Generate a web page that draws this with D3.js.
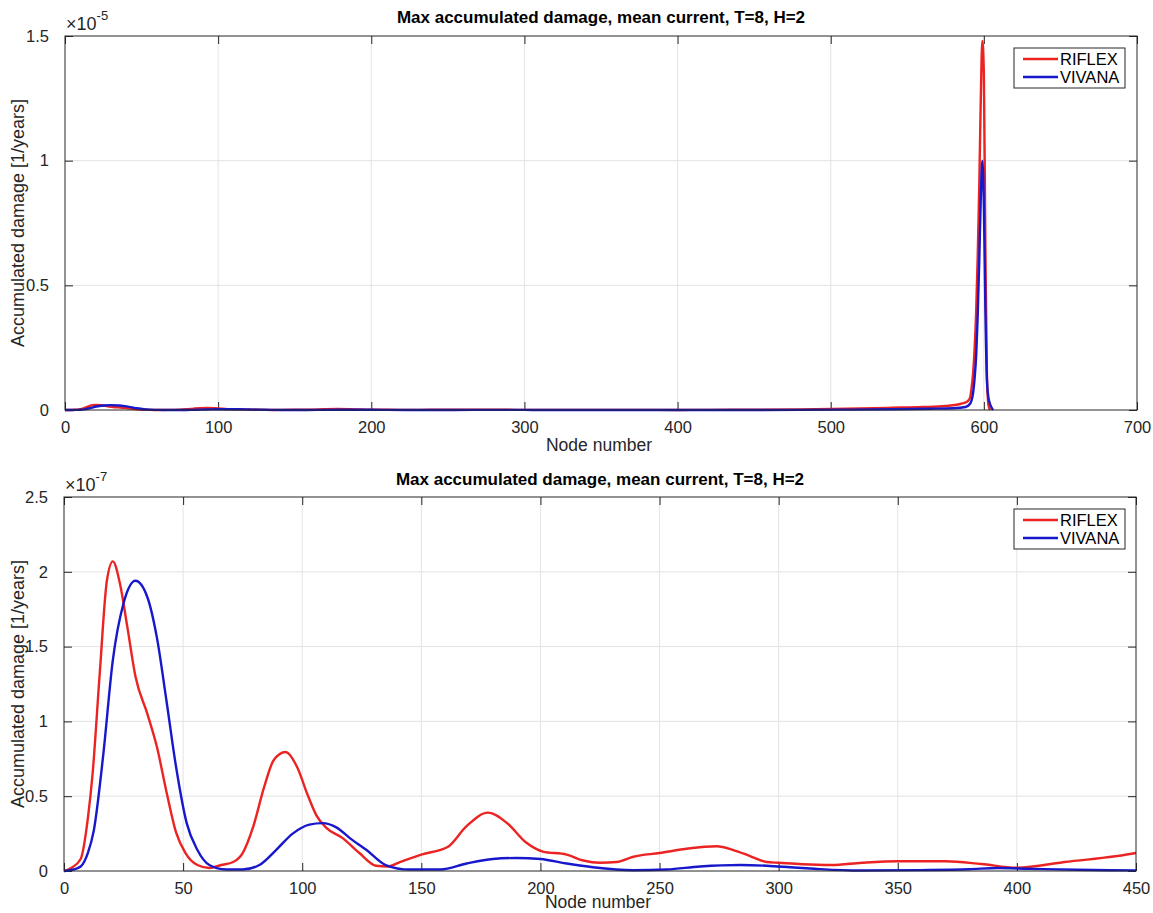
<!DOCTYPE html>
<html>
<head>
<meta charset="utf-8">
<script src="https://cdn.jsdelivr.net/npm/d3@7"></script>
<style>
  body { margin: 0; background: #fff; }
  svg { display: block; font-family: "Liberation Sans", Arial, sans-serif; }
  .grid line { stroke: #e3e3e3; stroke-width: 1; }
  .tick text { fill: #262626; font-size: 16.5px; }
  .tick line { stroke: #262626; }
  .domain { display: none; }
  .box { fill: none; stroke: #262626; stroke-width: 1; }
  .title { font-weight: bold; font-size: 17px; fill: #000; }
  .label { font-size: 17.5px; fill: #262626; }
</style>
</head>
<body>
<div id="chart"></div>
<script>
// Chart size
const width = 1153;
const height = 913;

// Damage values are stored in units of 1e-7 [1/years]
const unit = 1e-7;

const riflexNodes = [0, 3, 7, 10, 12, 15, 18, 20.5, 23.5, 26.5, 30, 35, 39, 43, 47, 51, 56, 61, 66, 71,
  75, 79.5, 84, 88, 93, 98, 102, 106, 110, 117, 124, 131, 136, 141, 150, 161, 169, 178, 186, 194,
  201, 211, 218, 225, 232, 239, 250, 262, 274, 281, 288, 295, 300, 310, 322, 335, 350, 370, 385, 400,
  420, 450, 480, 510, 540, 560, 575, 585, 589, 591, 592, 593, 594, 595, 596, 597, 598, 599, 600, 601,
  602, 603, 604];
const riflexDamage = [0, 0.02, 0.08, 0.35, 0.65, 1.32, 1.94, 2.07, 1.92, 1.64, 1.3, 1.05, 0.83, 0.53, 0.26, 0.12, 0.04, 0.02, 0.04, 0.06,
  0.12, 0.3, 0.56, 0.74, 0.795, 0.69, 0.52, 0.37, 0.29, 0.22, 0.12, 0.035, 0.03, 0.06, 0.11, 0.16, 0.3, 0.39, 0.32, 0.19,
  0.13, 0.11, 0.07, 0.055, 0.06, 0.095, 0.12, 0.15, 0.165, 0.14, 0.1, 0.06, 0.055, 0.045, 0.04, 0.055, 0.065, 0.065, 0.047, 0.022,
  0.06, 0.12, 0.25, 0.5, 0.9, 1.2, 1.6, 2.5, 3.3, 5, 9, 15, 25, 40, 62, 90, 125, 148, 135, 65,
  14, 2, 0];

const vivanaNodes = [0, 4, 7, 10, 12.5, 16.5, 20.5, 25, 30, 35, 39, 43, 47, 51.5, 56, 61, 68, 75, 82, 89,
  96, 103, 108.5, 114.5, 120, 127, 135, 145, 158, 169, 180, 190, 200, 211, 222, 239, 253, 267, 284, 295,
  305, 315, 334, 360, 380, 392, 405, 425, 450, 480, 510, 540, 565, 580, 588, 591, 593, 594, 595, 596,
  597, 598, 599, 600, 601, 602, 603, 604, 605, 606];
const vivanaDamage = [0, 0.01, 0.03, 0.12, 0.27, 0.78, 1.41, 1.79, 1.94, 1.83, 1.56, 1.14, 0.7, 0.32, 0.14, 0.04, 0.01, 0.01, 0.04, 0.14,
  0.25, 0.31, 0.32, 0.29, 0.22, 0.14, 0.04, 0.01, 0.01, 0.05, 0.08, 0.087, 0.08, 0.05, 0.025, 0.005, 0.01, 0.03, 0.04, 0.035,
  0.025, 0.015, 0.003, 0.006, 0.012, 0.02, 0.015, 0.008, 0.004, 0.05, 0.15, 0.3, 0.5, 0.7, 1.2, 2.5, 7, 13, 22, 38,
  60, 85, 100, 82, 40, 12, 5, 2.5, 1, 0];

const seriesNames = ["RIFLEX", "VIVANA"];
const seriesColors = ["#ec2323", "#1717cc"];

const titleText = "Max accumulated damage, mean current, T=8, H=2";

// Two panels: full riser and zoom on the first 450 nodes
const panels = [
  { top: 36, bottom: 410, left: 65, right: 1137, xMax: 700, xStep: 100, yMax: 1.5, yStep: 0.5, exp: -5, titleY: 23, labelGap: 41 },
  { top: 497, bottom: 871, left: 64, right: 1136, xMax: 450, xStep: 50, yMax: 2.5, yStep: 0.5, exp: -7, titleY: 485, labelGap: 37 }
];

const series = [
  riflexNodes.map((n, i) => ({ node: n, value: riflexDamage[i] * unit })),
  vivanaNodes.map((n, i) => ({ node: n, value: vivanaDamage[i] * unit }))
];

const svg = d3.select("#chart")
  .append("svg")
  .attr("width", width)
  .attr("height", height);

panels.forEach((p, pi) => drawPanel(p, pi));

function drawPanel(p, pi) {
  const scaleExp = Math.pow(10, p.exp);
  const x = d3.scaleLinear().domain([0, p.xMax]).range([p.left, p.right]);
  const y = d3.scaleLinear().domain([0, p.yMax * scaleExp]).range([p.bottom, p.top]);

  const xTicks = d3.range(0, p.xMax + 1e-9, p.xStep);
  const yTicks = d3.range(0, p.yMax + 1e-9, p.yStep).map(v => v * scaleExp);

  const g = svg.append("g");

  // gridlines
  const grid = g.append("g").attr("class", "grid");
  grid.selectAll(".gx").data(xTicks.slice(1, -1)).enter()
    .append("line")
    .attr("x1", d => x(d)).attr("x2", d => x(d))
    .attr("y1", p.top).attr("y2", p.bottom);
  grid.selectAll(".gy").data(yTicks.slice(1, -1)).enter()
    .append("line")
    .attr("x1", p.left).attr("x2", p.right)
    .attr("y1", d => y(d)).attr("y2", d => y(d));

  // axes, ticks pointing inward
  const tickFmt = d => d3.format("~g")(+(d / scaleExp).toFixed(3));
  g.append("g")
    .attr("transform", `translate(0,${p.bottom})`)
    .call(d3.axisBottom(x).tickValues(xTicks).tickSizeInner(-8).tickSizeOuter(0).tickPadding(14))
    .call(a => a.selectAll(".tick text").attr("dy", "0.55em"));
  g.append("g")
    .attr("transform", `translate(0,${p.top})`)
    .call(d3.axisTop(x).tickValues(xTicks).tickSizeInner(-8).tickSizeOuter(0).tickFormat(""));
  g.append("g")
    .attr("transform", `translate(${p.left},0)`)
    .call(d3.axisLeft(y).tickValues(yTicks).tickSizeInner(-8).tickSizeOuter(0).tickPadding(16).tickFormat(tickFmt));
  g.append("g")
    .attr("transform", `translate(${p.right},0)`)
    .call(d3.axisRight(y).tickValues(yTicks).tickSizeInner(-8).tickSizeOuter(0).tickFormat(""));

  // clip so the zoomed panel only shows nodes up to its limit
  const clipId = "clip" + pi;
  svg.append("clipPath").attr("id", clipId)
    .append("rect")
    .attr("x", p.left).attr("y", p.top - 4)
    .attr("width", p.right - p.left).attr("height", p.bottom - p.top + 6);

  const line = d3.line()
    .x(d => x(d.node))
    .y(d => y(d.value))
    .curve(d3.curveMonotoneX);

  const lines = g.append("g").attr("clip-path", `url(#${clipId})`);
  series.forEach((s, i) => {
    lines.append("path")
      .datum(s)
      .attr("fill", "none")
      .attr("stroke", seriesColors[i])
      .attr("stroke-width", 2.4)
      .attr("stroke-linejoin", "round")
      .attr("d", line);
  });

  g.append("rect")
    .attr("class", "box")
    .attr("x", p.left).attr("y", p.top)
    .attr("width", p.right - p.left).attr("height", p.bottom - p.top);

  // exponent label
  const expText = g.append("text")
    .attr("x", p.left + 1)
    .attr("y", p.top - 6)
    .attr("class", "label")
    .style("font-size", "18px");
  expText.append("tspan").text("\u00d710");
  expText.append("tspan").attr("dy", -10).style("font-size", "13px").text(p.exp);

  // title and axis labels
  g.append("text")
    .attr("class", "title")
    .attr("x", (p.left + p.right) / 2)
    .attr("y", p.titleY)
    .attr("text-anchor", "middle")
    .text(titleText);

  g.append("text")
    .attr("class", "label")
    .attr("x", (p.left + p.right) / 2 - 2)
    .attr("y", p.bottom + p.labelGap)
    .attr("text-anchor", "middle")
    .text("Node number");

  g.append("text")
    .attr("class", "label")
    .style("font-size", "18px")
    .attr("transform", `translate(24,${(p.top + p.bottom) / 2}) rotate(-90)`)
    .attr("text-anchor", "middle")
    .text("Accumulated damage [1/years]");

  // legend
  const lx = 1014, ly = p.top + 12;
  const legend = g.append("g");
  legend.append("rect")
    .attr("x", lx).attr("y", ly)
    .attr("width", 111).attr("height", 40)
    .attr("fill", "#fff")
    .attr("stroke", "#262626");
  seriesNames.forEach((name, i) => {
    const yy = ly + 11 + i * 18;
    legend.append("line")
      .attr("x1", lx + 9).attr("x2", lx + 44)
      .attr("y1", yy).attr("y2", yy)
      .attr("stroke", seriesColors[i])
      .attr("stroke-width", 2.4);
    legend.append("text")
      .attr("class", "label")
      .style("font-size", "16.5px")
      .attr("x", lx + 46)
      .attr("y", yy + 6)
      .style("fill", "#000")
      .text(name);
  });
}
</script>
</body>
</html>
